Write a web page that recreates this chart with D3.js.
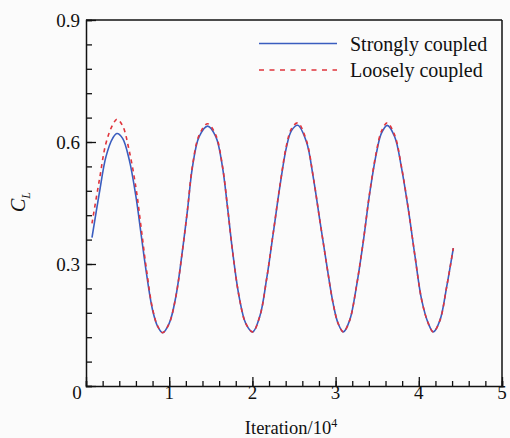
<!DOCTYPE html>
<html>
<head>
<meta charset="utf-8">
<script src="https://cdn.jsdelivr.net/npm/d3@7"></script>
<style>
  html, body { margin: 0; padding: 0; background: #fbfbfb; }
  svg { display: block; }
</style>
</head>
<body>
<script>
// ---- Data (iteration in units of 10^4, lift coefficient C_L) ----
const strongIter = [0.072,0.16,0.24,0.32,0.373,0.44,0.52,0.60,0.661,0.721,0.80,0.862,0.921,1.0,1.08,1.16,1.22,1.28,1.36,1.462,1.56,1.64,1.70,1.76,1.84,1.92,2.003,2.09,2.17,2.25,2.33,2.41,2.47,2.545,2.65,2.73,2.81,2.89,2.97,3.03,3.093,3.17,3.25,3.33,3.41,3.49,3.55,3.62,3.71,3.79,3.875,3.955,4.035,4.114,4.175,4.255,4.335,4.415];
const strongCL   = [0.365,0.474,0.564,0.609,0.621,0.609,0.556,0.466,0.375,0.285,0.187,0.146,0.131,0.154,0.220,0.334,0.433,0.539,0.613,0.639,0.613,0.539,0.441,0.334,0.220,0.154,0.133,0.172,0.262,0.375,0.490,0.588,0.628,0.641,0.600,0.515,0.408,0.302,0.203,0.154,0.133,0.162,0.244,0.351,0.474,0.572,0.621,0.641,0.613,0.539,0.433,0.318,0.211,0.154,0.133,0.162,0.244,0.339];
const looseIter  = [0.072,0.16,0.24,0.32,0.373,0.44,0.52,0.60,0.661,0.721,0.80,0.862,0.921,1.0,1.08,1.16,1.22,1.28,1.36,1.462,1.56,1.64,1.70,1.76,1.84,1.92,2.003,2.09,2.17,2.25,2.33,2.41,2.47,2.545,2.65,2.73,2.81,2.89,2.97,3.03,3.093,3.17,3.25,3.33,3.41,3.49,3.55,3.62,3.71,3.79,3.875,3.955,4.035,4.114,4.175,4.255,4.335,4.415];
const looseCL    = [0.400,0.506,0.597,0.642,0.656,0.640,0.578,0.488,0.392,0.295,0.190,0.147,0.131,0.154,0.220,0.334,0.434,0.542,0.617,0.645,0.617,0.541,0.442,0.334,0.220,0.154,0.133,0.172,0.262,0.376,0.492,0.592,0.633,0.647,0.603,0.516,0.408,0.302,0.203,0.154,0.133,0.162,0.245,0.352,0.476,0.576,0.626,0.647,0.617,0.541,0.434,0.318,0.211,0.154,0.133,0.162,0.244,0.339];
const xTicks = [0,1,2,3,4,5];
const yTicks = [0.3,0.6,0.9];
const seriesNames = ["Strongly coupled","Loosely coupled"];
const xTitle = "Iteration/10";
const xTitleSup = "4";

// ---- Layout ----
const W = 510, H = 438;
const L = 86, R = 502, T = 20, B = 386;
const blue = "#3a5dbf", red = "#e0343c";
const FONT = "'Liberation Serif', 'Times New Roman', Times, 'DejaVu Serif', serif";

const svg = d3.select("body").append("svg").attr("width", W).attr("height", H)
  .attr("font-family", FONT).style("font-family", FONT);
svg.append("rect").attr("width", W).attr("height", H).attr("fill", "#fbfbfb");

const x = d3.scaleLinear().domain([0,5]).range([L,R]);
const y = d3.scaleLinear().domain([0,0.9]).range([B,T]);

// frame (top & right)
svg.append("line").attr("x1",L).attr("x2",R).attr("y1",T).attr("y2",T).attr("stroke","#111").attr("stroke-width",1.5);
svg.append("line").attr("x1",R).attr("x2",R).attr("y1",T).attr("y2",B).attr("stroke","#111").attr("stroke-width",1.5);

// x axis (ticks inward)
const xMinor = d3.range(0,5.0001,0.2);
const gx = svg.append("g").attr("transform",`translate(0,${B})`);
gx.call(d3.axisBottom(x).tickValues(xMinor).tickSize(-5).tickFormat(""));
gx.append("g").call(d3.axisBottom(x).tickValues(xTicks).tickSize(-9).tickFormat(""));
gx.selectAll("path.domain").attr("stroke","#111").attr("stroke-width",1.5);
gx.selectAll(".tick line").attr("stroke","#111").attr("stroke-width",1.3);
gx.selectAll("g > g > path.domain").remove();

const txt = (sel) => sel.attr("font-family", FONT).style("font-family", FONT).attr("fill", "#111");

// x labels
svg.append("g").selectAll("text").data(xTicks).join("text")
  .call(txt)
  .attr("x", d => x(d) + (d === 0 ? -9 : 0))
  .attr("y", 399)
  .attr("text-anchor","middle")
  .attr("font-size",19)
  .text(d => d3.format("d")(d));

// y axis (ticks inward)
const yMinor = d3.range(0,0.9001,0.06);
const gy = svg.append("g").attr("transform",`translate(${L},0)`);
gy.call(d3.axisLeft(y).tickValues(yMinor).tickSize(-6).tickFormat(""));
gy.append("g").call(d3.axisLeft(y).tickValues([0].concat(yTicks)).tickSize(-10).tickFormat(""));
gy.selectAll("path.domain").attr("stroke","#111").attr("stroke-width",1.5);
gy.selectAll(".tick line").attr("stroke","#111").attr("stroke-width",1.3);
gy.selectAll("g > g > path.domain").remove();
svg.append("g").selectAll("text").data(yTicks).join("text")
  .call(txt)
  .attr("x", 80)
  .attr("y", d => y(d) + 6.5)
  .attr("text-anchor","end")
  .attr("font-size",19)
  .text(d => d3.format(".1f")(d));

// axis titles
const xt = svg.append("text").call(txt).attr("x",291).attr("y",434).attr("text-anchor","middle").attr("font-size",18.5);
xt.append("tspan").text(xTitle);
xt.append("tspan").attr("font-size",12).attr("dy",-7).text(xTitleSup);

const yt = svg.append("text").call(txt).attr("transform","translate(25,212) rotate(-90)").attr("font-size",20);
yt.append("tspan").attr("font-style","italic").text("C");
yt.append("tspan").attr("font-style","italic").attr("font-size",12).attr("dy",5).text("L");

// lines
const line = d3.line().x(d => x(d[0])).y(d => y(d[1])).curve(d3.curveCatmullRom.alpha(0.5));
const strong = strongIter.map((v,i) => [v, strongCL[i]]);
const loose = looseIter.map((v,i) => [v, looseCL[i]]);
svg.append("path").datum(strong).attr("d",line).attr("fill","none").attr("stroke",blue).attr("stroke-width",1.6);
svg.append("path").datum(loose).attr("d",line).attr("fill","none").attr("stroke",red).attr("stroke-width",1.6).attr("stroke-dasharray","4,4");

// legend
const leg = svg.append("g");
const legY = [43.5, 70];
leg.selectAll("line").data(seriesNames).join("line")
  .attr("x1",259).attr("x2",337)
  .attr("y1",(d,i)=>legY[i]).attr("y2",(d,i)=>legY[i])
  .attr("stroke",(d,i)=> i===0 ? blue : red)
  .attr("stroke-width",1.5)
  .attr("stroke-dasharray",(d,i)=> i===0 ? null : "5,5.5");
leg.selectAll("text").data(seriesNames).join("text")
  .call(txt)
  .attr("x",350).attr("y",(d,i)=>legY[i]+7)
  .attr("font-size",20)
  .text(d => d);
</script>
</body>
</html>
